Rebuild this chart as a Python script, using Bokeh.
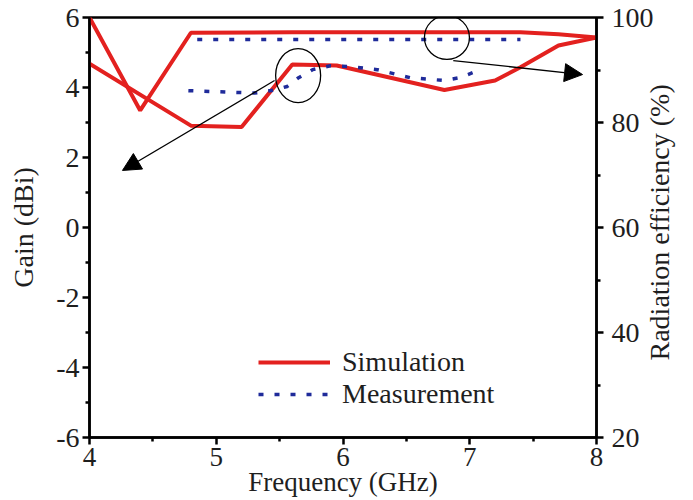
from math import pi

from bokeh.plotting import figure
from bokeh.models import (Range1d, LinearAxis, FixedTicker, Legend, LegendItem,
                          Arrow, NormalHead)
from bokeh.embed import file_html
from bokeh.resources import INLINE

# Simulated radiation efficiency (%)
freq_eff_sim = [4.0, 4.4, 4.8, 5.6, 6.4, 7.4, 7.7, 8.0]
eff_sim = [100.0, 82.3, 97.1, 97.2, 97.2, 97.2, 96.8, 96.2]

# Measured radiation efficiency (%)
freq_eff_meas = [4.85, 7.4]
eff_meas = [95.8, 95.8]

# Simulated gain (dBi)
freq_gain_sim = [4.0, 4.8, 5.2, 5.6, 5.95, 6.8, 7.2, 7.4, 7.7, 8.0]
gain_sim = [4.68, 2.91, 2.87, 4.66, 4.63, 3.93, 4.2, 4.58, 5.2, 5.43]

# Measured gain (dBi)
freq_gain_meas = [4.78, 5.3, 5.45, 5.56, 5.65, 5.76, 5.9, 6.05, 6.27, 6.53, 6.8, 6.92, 7.05]
gain_meas = [3.91, 3.84, 3.92, 4.03, 4.28, 4.51, 4.62, 4.6, 4.51, 4.28, 4.2, 4.28, 4.46]

# Tick positions
x_ticks = [4, 5, 6, 7, 8]
x_minor = [4.5, 5.5, 6.5, 7.5]
gain_ticks = [-6, -4, -2, 0, 2, 4, 6]
gain_minor = [-5, -3, -1, 1, 3, 5]
eff_ticks = [20, 40, 60, 80, 100]
eff_minor = [30, 50, 70, 90]

# Callout ellipses (frequency, gain) and arrows (from -> to)
ring_x = [5.646, 6.82]
ring_y = [4.34, 5.43]
ring_w = [45, 45]
ring_h = [54, 44]
arrow_gain = [5.46, 4.2, 4.26, 1.63]
arrow_eff = [6.87, 4.77, 7.89, 4.37]

FONT = "Liberation Serif"
TEXT = "#1e1e1e"
RED = "#e3211f"
BLUE = "#1f2b9a"

p = figure(width=693, height=500, output_backend="svg", toolbar_location=None,
           x_range=Range1d(4, 8), y_range=Range1d(-6, 6),
           min_border_left=89, min_border_right=96, min_border_top=17,
           min_border_bottom=63)
p.extra_y_ranges = {"eff": Range1d(20, 100)}
p.xgrid.visible = False
p.ygrid.visible = False
p.outline_line_color = "black"
p.outline_line_width = 2.5
p.background_fill_color = "white"
p.border_fill_color = "white"

r_eff_sim = p.line(freq_eff_sim, eff_sim, y_range_name="eff", line_color=RED,
                   line_width=4)
r_eff_meas = p.line(freq_eff_meas, eff_meas, y_range_name="eff", line_color=BLUE,
                    line_width=3.5, line_dash="5 11")
r_gain_sim = p.line(freq_gain_sim, gain_sim, line_color=RED, line_width=4)
r_gain_meas = p.line(freq_gain_meas, gain_meas, line_color=BLUE, line_width=3.5,
                     line_dash="5 11")

p.ellipse(x=ring_x, y=ring_y, width=ring_w, height=ring_h,
          width_units="screen", height_units="screen",
          fill_color=None, line_color="black", line_width=1.3)

for a in (arrow_gain, arrow_eff):
    p.add_layout(Arrow(x_start=a[0], y_start=a[1], x_end=a[2], y_end=a[3],
                       line_color="black", line_width=1.3,
                       end=NormalHead(size=18, fill_color="black",
                                      line_color="black", line_width=1)))


def style_axis(ax, ticks, minor, title, size="28px"):
    ax.ticker = FixedTicker(ticks=ticks, minor_ticks=minor)
    ax.major_label_overrides = {t: str(t) for t in ticks}
    ax.axis_label = title
    ax.axis_label_text_font = FONT
    ax.axis_label_text_font_style = "normal"
    ax.axis_label_text_font_size = size
    ax.axis_label_text_color = TEXT
    ax.major_label_text_font = FONT
    ax.major_label_text_font_size = size
    ax.major_label_text_color = TEXT
    ax.axis_line_width = 2.5
    ax.major_tick_line_width = 2.5
    ax.minor_tick_line_width = 2.5
    ax.major_tick_out = 7
    ax.major_tick_in = 0
    ax.minor_tick_out = 4
    ax.minor_tick_in = 0
    ax.major_label_standoff = 3
    ax.axis_label_standoff = 4


style_axis(p.xaxis[0], x_ticks, x_minor, "Frequency (GHz)", size="27px")
p.xaxis[0].axis_label_standoff = -2
style_axis(p.yaxis[0], gain_ticks, gain_minor, "Gain (dBi)")
p.yaxis[0].axis_label_standoff = 14

# Efficiency axis on the right. Its title is rotated to read bottom to top;
# a rotated title starts at its anchor, so it is anchored at the bottom of
# the axis and led by a few no-break spaces to lift it to the middle.
right = LinearAxis(y_range_name="eff")
style_axis(right, eff_ticks, eff_minor, "\u00a0" * 11 + "Radiation efficiency (%)")
right.major_label_standoff = 8
right.axis_label_standoff = 3
right.axis_label_orientation = pi / 2
try:
    right.axis_label_align = "start"
except ValueError:
    right.axis_label_align = "left"
p.add_layout(right, "right")

legend = Legend(items=[LegendItem(label="Simulation", renderers=[r_gain_sim]),
                       LegendItem(label="Measurement", renderers=[r_gain_meas])],
                location=(169, 27))
legend.label_text_font = FONT
legend.label_text_font_size = "28px"
legend.label_text_color = TEXT
legend.glyph_width = 72
legend.label_standoff = 12
legend.spacing = -2
legend.padding = 0
legend.margin = 0
legend.border_line_color = None
legend.background_fill_alpha = 0
p.add_layout(legend, "center")

open("out.html", "w").write(file_html(p, INLINE))
